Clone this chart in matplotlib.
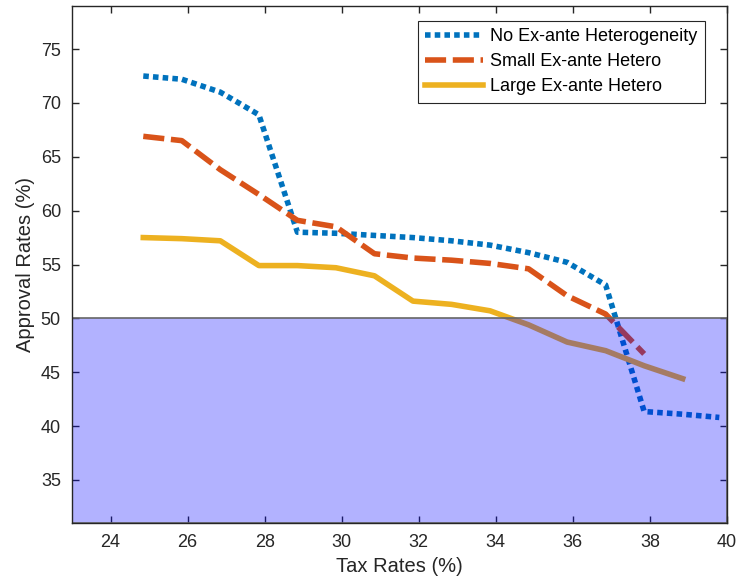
import numpy as np
import matplotlib
matplotlib.use("Agg")
import matplotlib.pyplot as plt
from matplotlib.patches import Rectangle

plt.rcParams['font.family'] = ['Liberation Sans', 'DejaVu Sans']

# tax rates (%)
tax = [24.85, 25.85, 26.85, 27.85, 28.85, 29.85, 30.85, 31.85, 32.85,
       33.85, 34.85, 35.85, 36.85, 37.85, 38.85, 39.8]

# approval rates (%)
no_het = [72.5, 72.2, 71.0, 68.9, 58.0, 57.9, 57.7, 57.5, 57.2,
          56.8, 56.1, 55.2, 53.1, 41.35, 41.1, 40.8]
small_het = [66.9, 66.5, 63.8, 61.5, 59.1, 58.5, 56.0, 55.6, 55.4,
             55.1, 54.6, 52.1, 50.4, 46.7]
large_het = [57.5, 57.4, 57.2, 54.9, 54.9, 54.7, 53.95, 51.6, 51.3,
             50.7, 49.4, 47.8, 47.0, 45.6, 44.4]

threshold = 50

c_blue = (0/255, 114/255, 189/255)
c_orange = (217/255, 83/255, 25/255)
c_yellow = (237/255, 177/255, 32/255)
axc = '0.15'

fig = plt.figure(figsize=(7.4, 5.88), dpi=100)
ax = fig.add_axes([72/740, 1 - 523/588, 655/740, 517/588])

ax.plot(tax, no_het, color=c_blue, lw=4, dashes=(1.0, 0.75),
        dash_capstyle='butt', label='No Ex-ante Heterogeneity')
ax.plot(tax[:len(small_het)], small_het, color=c_orange, lw=4,
        dashes=(3.8, 1.2), label='Small Ex-ante Hetero')
ax.plot(tax[:len(large_het)], large_het, '-', color=c_yellow, lw=4,
        label='Large Ex-ante Hetero')

ax.set_xlim(23, 40)
ax.set_ylim(31, 79)

rect = Rectangle((23, 31), 17, threshold - 31, facecolor=(0, 0, 1, 0.3),
                 edgecolor='0.4', lw=1.2, zorder=5)
ax.add_patch(rect)

ax.set_xticks(np.arange(24, 41, 2))
ax.set_yticks(np.arange(35, 76, 5))
ax.tick_params(direction='in', top=True, right=True, length=5, width=1,
               colors=axc, labelsize=13, pad=8)
for s in ax.spines.values():
    s.set_color(axc)
    s.set_linewidth(1)
    s.set_zorder(6)

ax.set_xlabel('Tax Rates (%)', fontsize=14.5, color=axc, labelpad=4)
ax.set_ylabel('Approval Rates (%)', fontsize=14.5, color=axc, labelpad=4)

leg = ax.legend(loc='upper right', bbox_to_anchor=(0.966, 0.971),
                fontsize=13, fancybox=False, edgecolor=axc, framealpha=1,
                handlelength=3.2, borderaxespad=0, borderpad=0.4,
                labelspacing=0.45, handletextpad=0.4)
leg.get_frame().set_linewidth(0.8)
leg.set_zorder(10)

fig.savefig('out.png', dpi=100)
